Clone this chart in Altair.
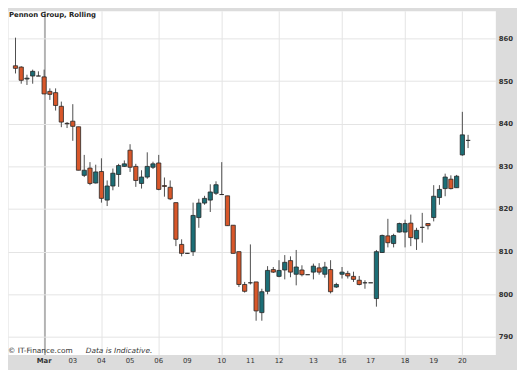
import altair as alt
import pandas as pd

# Hourly candles, oldest first
opens = [853.6, 853.3, 850.5, 851.2, 851.2, 851.0, 847.6, 847.3, 844.1, 840.1,
         840.6, 839.3, 827.9, 829.6, 826.1, 828.8, 822.1, 825.4, 828.1, 830.0,
         833.8, 830.0, 826.0, 827.5, 829.8, 830.8, 825.5, 825.1, 821.5, 811.7,
         809.6, 810.0, 818.0, 821.4, 822.1, 823.7, 823.4, 823.1, 816.2, 810.0,
         802.3, 802.7, 802.9, 795.7, 800.7, 805.8, 804.2, 805.7, 807.9, 804.7,
         805.7, 804.6, 805.2, 806.2, 804.7, 805.8, 801.7, 804.7, 804.9, 804.2,
         803.3, 802.7, 802.7, 799.0, 809.8, 813.7, 811.9, 814.6, 814.6, 816.7,
         813.0, 815.7, 816.6, 818.0, 822.7, 824.8, 827.0, 825.0, 832.7, 836.1]
highs = [860.2, 853.5, 851.5, 852.7, 852.3, 852.7, 848.3, 848.3, 845.2, 840.4,
         844.6, 839.3, 832.7, 831.0, 830.4, 831.9, 826.7, 829.5, 830.6, 831.4,
         835.2, 830.6, 829.1, 833.3, 831.1, 832.7, 827.4, 826.7, 821.5, 812.9,
         809.7, 821.5, 822.4, 823.1, 825.8, 826.5, 831.0, 823.1, 816.2, 810.0,
         802.9, 811.7, 802.9, 801.3, 806.6, 806.4, 808.0, 809.2, 808.9, 810.4,
         806.8, 804.6, 807.2, 807.3, 807.6, 808.0, 802.7, 806.4, 805.5, 805.3,
         804.3, 803.3, 802.7, 810.4, 814.0, 817.7, 814.2, 816.8, 817.5, 818.7,
         815.6, 819.1, 816.6, 825.6, 825.6, 828.3, 827.9, 828.0, 842.8, 837.4]
lows = [851.8, 849.4, 849.1, 849.4, 851.2, 847.0, 845.6, 843.1, 839.2, 839.0,
        836.0, 829.1, 827.5, 825.6, 826.0, 821.5, 820.7, 824.4, 825.2, 829.9,
        828.7, 825.2, 824.8, 827.1, 829.4, 824.4, 822.9, 822.1, 811.3, 808.9,
        809.5, 809.0, 815.6, 821.0, 819.3, 823.3, 823.3, 816.1, 809.6, 801.7,
        800.4, 802.3, 793.8, 793.8, 800.0, 805.0, 804.0, 803.5, 804.0, 802.1,
        804.2, 804.6, 803.5, 804.6, 803.9, 800.2, 801.5, 803.7, 803.7, 802.9,
        802.1, 801.3, 802.7, 797.1, 809.7, 811.0, 811.0, 814.5, 811.0, 811.3,
        810.4, 812.1, 815.2, 817.1, 821.0, 823.0, 824.6, 825.0, 832.5, 834.3]
closes = [853.0, 850.2, 850.7, 852.3, 851.2, 847.0, 846.9, 844.3, 840.4, 840.0,
          839.4, 829.1, 829.1, 826.0, 828.7, 822.5, 825.4, 828.4, 830.2, 830.6,
          829.8, 826.7, 827.5, 830.0, 830.6, 824.6, 825.3, 822.4, 812.9, 809.6,
          809.6, 818.5, 821.4, 822.5, 824.0, 825.7, 823.4, 816.1, 809.6, 802.3,
          800.7, 802.7, 796.1, 800.6, 805.6, 805.2, 805.6, 807.5, 805.2, 806.4,
          804.6, 804.6, 806.6, 805.2, 806.4, 800.6, 802.3, 805.2, 804.3, 803.5,
          802.3, 802.7, 802.7, 810.0, 813.8, 812.1, 813.8, 816.6, 816.6, 813.3,
          815.0, 815.7, 816.1, 823.0, 824.6, 827.5, 824.8, 827.7, 837.4, 836.1]

# First candle of each trading day and its label
day_start_idx = [5, 10, 15, 20, 25, 30, 36, 41, 46, 52, 57, 62, 68, 73, 78]
day_labels = ["Mar", "03", "04", "05", "06", "09", "10", "11", "12", "13",
              "16", "17", "18", "19", "20"]
y_ticks = [790, 800, 810, 820, 830, 840, 850, 860]

df = pd.DataFrame({
    "i": list(range(len(opens))),
    "open": opens, "high": highs, "low": lows, "close": closes,
})
df["dir"] = ["up" if c >= o else "down" for o, c in zip(opens, closes)]

days = pd.DataFrame({"i": day_start_idx, "lab": day_labels})
month_days = days.iloc[:1]
other_days = days.iloc[1:]

month_test = f"datum.value == {day_start_idx[0]}"

xscale = alt.Scale(domain=[-0.45, 82.9], nice=False, zero=False)
yscale = alt.Scale(domain=[785.9, 866.5], nice=False, zero=False)

x_axis = alt.Axis(
    values=day_start_idx, labels=False, title=None, ticks=False,
    domain=False, grid=True,
    gridColor={"condition": {"test": month_test, "value": "#b3b3b3"}, "value": "#e4e4e4"},
    gridWidth={"condition": {"test": month_test, "value": 2}, "value": 1},
)
y_axis = alt.Axis(
    values=y_ticks, orient="right", title=None, ticks=False, domain=False,
    grid=True, gridColor="#e4e4e4", gridWidth=1,
    labelFontSize=7, labelFontWeight="bold", labelColor="#333333",
    labelPadding=3, labelFont="DejaVu Sans", labelFlush=False, labelOverlap=False,
)

base = alt.Chart(df)

wicks = base.mark_rule(color="#4d4d4d", strokeWidth=1).encode(
    x=alt.X("i:Q", scale=xscale, axis=x_axis),
    y=alt.Y("low:Q", scale=yscale, axis=y_axis),
    y2="high:Q",
)

bodies = base.mark_bar(size=4.3, stroke="#262626", strokeWidth=0.8).encode(
    x="i:Q",
    y="open:Q",
    y2="close:Q",
    color=alt.Color("dir:N", scale=alt.Scale(domain=["up", "down"],
                                             range=["#1c6e76", "#d8572a"]),
                    legend=None),
)

xlab_month = alt.Chart(month_days).mark_text(
    font="DejaVu Sans", fontSize=7, fontWeight="bold", color="#333333",
    align="center", baseline="middle",
).encode(x="i:Q", y=alt.value(355.5), text="lab:N")

xlab_days = alt.Chart(other_days).mark_text(
    font="DejaVu Sans", fontSize=7, color="#333333",
    align="center", baseline="middle",
).encode(x="i:Q", y=alt.value(355.5), text="lab:N")

one = pd.DataFrame({"a": [0]})
title_txt = alt.Chart(one).mark_text(
    text="Pennon Group, Rolling", font="DejaVu Sans", fontSize=7, fontWeight="bold",
    color="#222222", align="left", baseline="middle",
).encode(x=alt.value(1), y=alt.value(4))

copy_txt = alt.Chart(one).mark_text(
    text="© IT-Finance.com", font="DejaVu Sans", fontSize=7.5,
    color="#333333", align="left", baseline="middle",
).encode(x=alt.value(0), y=alt.value(345.5))

ind_txt = alt.Chart(one).mark_text(
    text="Data is Indicative.", font="DejaVu Sans", fontSize=7.5, fontStyle="italic",
    color="#333333", align="left", baseline="middle",
).encode(x=alt.value(79), y=alt.value(345.5))

chart = alt.layer(wicks, bodies, xlab_month, xlab_days, title_txt, copy_txt, ind_txt).properties(
    width=495, height=349,
    autosize=alt.AutoSizeParams(type="none"),
    padding={"left": 0, "top": 0, "right": 22, "bottom": 13},
).configure(background="#dcdcdc").configure_view(fill="white", stroke="transparent")

chart.save("out.html", embed_options={"renderer": "svg", "actions": False})
